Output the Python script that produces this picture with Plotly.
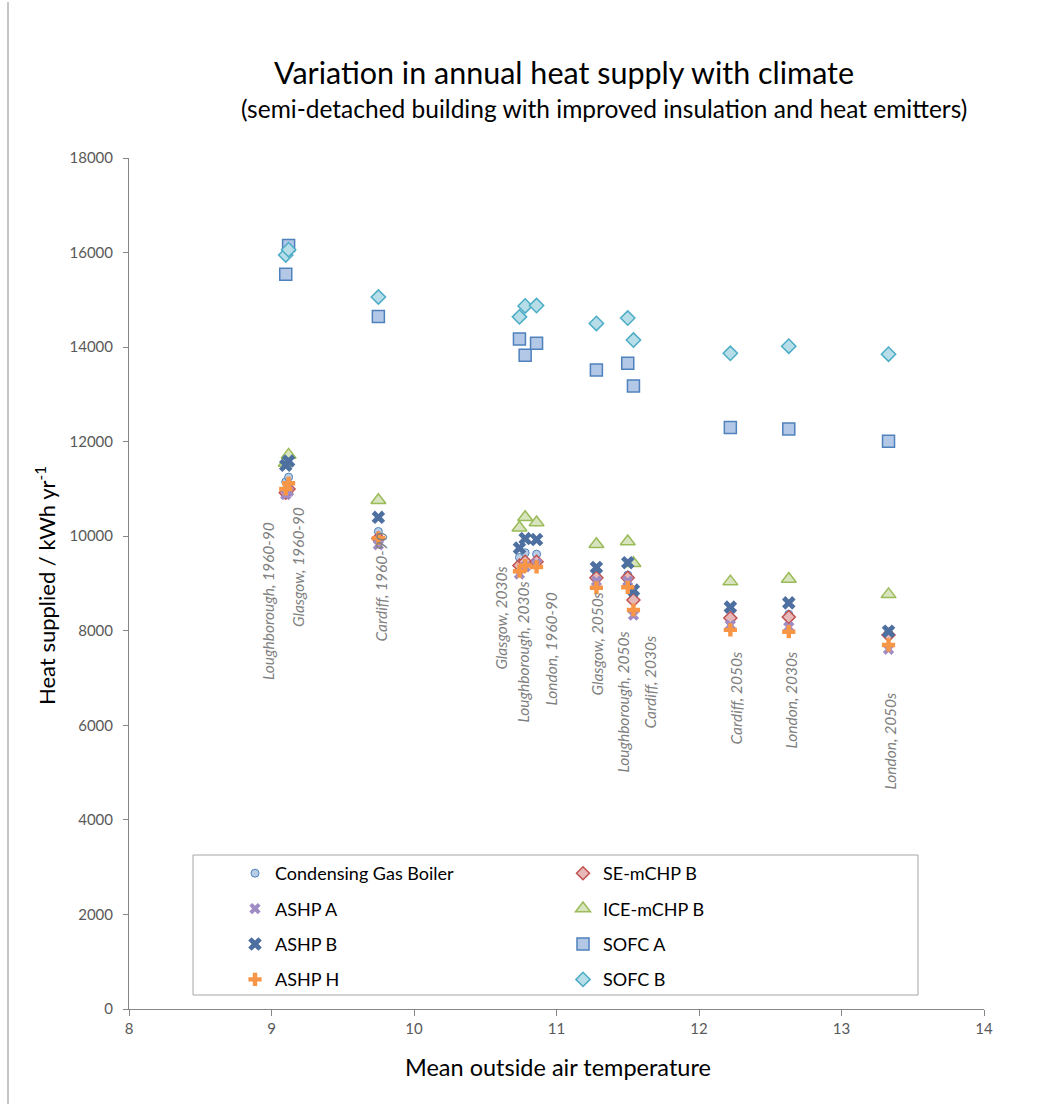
import plotly.graph_objects as go

# ---------------- data ----------------
locations = ["Loughborough, 1960-90", "Glasgow, 1960-90", "Cardiff, 1960-90",
             "Glasgow, 2030s", "Loughborough, 2030s", "London, 1960-90",
             "Glasgow, 2050s", "Loughborough, 2050s", "Cardiff, 2030s",
             "Cardiff, 2050s", "London, 2030s", "London, 2050s"]
mean_temp = [9.10, 9.12, 9.75, 10.74, 10.78, 10.86, 11.28, 11.50, 11.54, 12.22, 12.63, 13.33]

condensing_gas_boiler = [11150, 11250, 10100, 9550, 9650, 9620, 9150, 9180, 8710, 8200, 8350, 7950]
se_mchp_b = [10920, 11000, 9950, 9380, 9460, 9460, 9120, 9120, 8650, 8270, 8290, 7910]
ashp_a = [10880, 10950, 9820, 9200, 9350, 9420, 9050, 9050, 8330, 8120, 8080, 7610]
ice_mchp_b = [11550, 11720, 10760, 10180, 10400, 10290, 9830, 9890, 9430, 9040, 9095, 8770]
ashp_b = [11500, 11590, 10400, 9750, 9950, 9930, 9340, 9440, 8860, 8500, 8590, 7990]
sofc_a = [15540, 16150, 14650, 14170, 13830, 14080, 13515, 13660, 13180, 12300, 12270, 12010]
ashp_h = [11000, 11120, 9960, 9260, 9380, 9350, 8910, 8920, 8440, 8020, 7980, 7700]
sofc_b = [15950, 16060, 15060, 14640, 14870, 14880, 14500, 14615, 14150, 13870, 14020, 13850]

x_ticks = [8, 9, 10, 11, 12, 13, 14]
y_ticks = [0, 2000, 4000, 6000, 8000, 10000, 12000, 14000, 16000, 18000]

# ---------------- layout helpers (positions of the rotated location labels) ----------------
label_x = [8.975, 9.186, 9.768, 10.604, 10.765, 10.961, 11.284, 11.46, 11.656, 12.253, 12.639, 13.34]
label_top = [10342, 10660, 10131, 9391, 9073, 8862, 8862, 8016, 7952, 7593, 7593, 6747]

FONT = "Lato, 'Noto Sans', Arial, sans-serif"

series = [
    ("Condensing Gas Boiler", condensing_gas_boiler, dict(symbol="circle", size=8, color="#b9cde5", line=dict(color="#4f81bd", width=1)), "legend"),
    ("SE-mCHP B", se_mchp_b, dict(symbol="diamond", size=10, color="#e6b9b8", line=dict(color="#c0504d", width=1.5)), "legend2"),
    ("ASHP A", ashp_a, dict(symbol="x", size=10, color="#a08cc4", line=dict(width=0)), "legend"),
    ("ICE-mCHP B", ice_mchp_b, dict(symbol="triangle-up", size=13, color="#d7e4bd", line=dict(color="#9bbb59", width=1.5)), "legend2"),
    ("ASHP B", ashp_b, dict(symbol="x", size=12, color="#4d70a0", line=dict(width=0)), "legend"),
    ("SOFC A", sofc_a, dict(symbol="square", size=12, color="#b3c8e6", line=dict(color="#4f81bd", width=1.5)), "legend2"),
    ("ASHP H", ashp_h, dict(symbol="cross", size=11, color="#f79646", line=dict(width=0)), "legend"),
    ("SOFC B", sofc_b, dict(symbol="diamond", size=11, color="#b7dee8", line=dict(color="#4bacc6", width=1.5)), "legend2"),
]

fig = go.Figure()
for name, vals, marker, leg in series:
    fig.add_trace(go.Scatter(x=mean_temp, y=vals, mode="markers", name=name,
                             marker=marker, legend=leg, legendgroup=name,
                             hovertext=locations))

W, H = 1052, 1108
L, R, T, B = 129, 68, 158, 99
pw, ph = W - L - R, H - T - B

def px(xp):
    return (xp - L) / pw

def py(yp):
    return (H - B - yp) / ph

annotations = []
for txt, lx, lt in zip(locations, label_x, label_top):
    annotations.append(dict(x=lx, y=lt, xref="x", yref="y", text=txt, showarrow=False,
                            textangle=-90, xanchor="center", yanchor="top",
                            font=dict(family=FONT, size=15.5, color="#7f7f7f", style="italic")))
annotations += [
    dict(x=px(564), y=py(72), xref="paper", yref="paper", showarrow=False,
         text="Variation in annual heat supply with climate",
         font=dict(family=FONT, size=30.5, color="#000000"), xanchor="center", yanchor="middle"),
    dict(x=px(604), y=py(108), xref="paper", yref="paper", showarrow=False,
         text="(semi-detached building with improved insulation and heat emitters)",
         font=dict(family=FONT, size=24.5, color="#000000"), xanchor="center", yanchor="middle"),
    dict(x=px(45), y=py(586), xref="paper", yref="paper", showarrow=False, textangle=-90,
         text="Heat supplied / kWh yr<sup>-1</sup>",
         font=dict(family=FONT, size=22, color="#000000"), xanchor="center", yanchor="middle"),
    dict(x=px(558), y=py(1067), xref="paper", yref="paper", showarrow=False,
         text="Mean outside air temperature",
         font=dict(family=FONT, size=23.5, color="#000000"), xanchor="center", yanchor="middle"),
]

shapes = [
    dict(type="rect", xref="paper", yref="paper", x0=px(193), x1=px(918), y0=py(995), y1=py(855),
         line=dict(color="#a6a6a6", width=1), fillcolor="rgba(0,0,0,0)", layer="below"),
    dict(type="line", xref="paper", yref="paper", x0=px(8), x1=px(8), y0=py(1104), y1=py(2),
         line=dict(color="#8c8c8c", width=1)),
]

legend_common = dict(bgcolor="rgba(0,0,0,0)", borderwidth=0, traceorder="grouped",
                     tracegroupgap=9, font=dict(family=FONT, size=18, color="#000000"),
                     xanchor="left", yanchor="top", orientation="v", itemclick=False)

fig.update_layout(
    width=W, height=H, autosize=False,
    margin=dict(l=L, r=R, t=T, b=B),
    paper_bgcolor="white", plot_bgcolor="white",
    showlegend=True,
    legend=dict(x=px(235), y=py(855), xref="paper", yref="paper", **legend_common),
    legend2=dict(x=px(563), y=py(855), xref="paper", yref="paper", **legend_common),
    annotations=annotations,
    shapes=shapes,
    xaxis=dict(range=[8, 14], tickvals=x_ticks, ticktext=[str(v) for v in x_ticks],
               showgrid=False, zeroline=False, showline=True, linecolor="#868686", linewidth=1,
               ticks="outside", ticklen=6, tickcolor="#868686",
               tickfont=dict(family=FONT, size=15, color="#595959")),
    yaxis=dict(range=[0, 18000], tickvals=y_ticks, ticktext=[str(v) for v in y_ticks],
               showgrid=False, zeroline=False, showline=True, linecolor="#868686", linewidth=1,
               ticks="outside", ticklen=5, tickcolor="#868686", ticklabelstandoff=7,
               tickfont=dict(family=FONT, size=15, color="#595959")),
)

fig.write_html("out.html", config={"displayModeBar": False},
               post_script="document.body.style.margin='0';")
